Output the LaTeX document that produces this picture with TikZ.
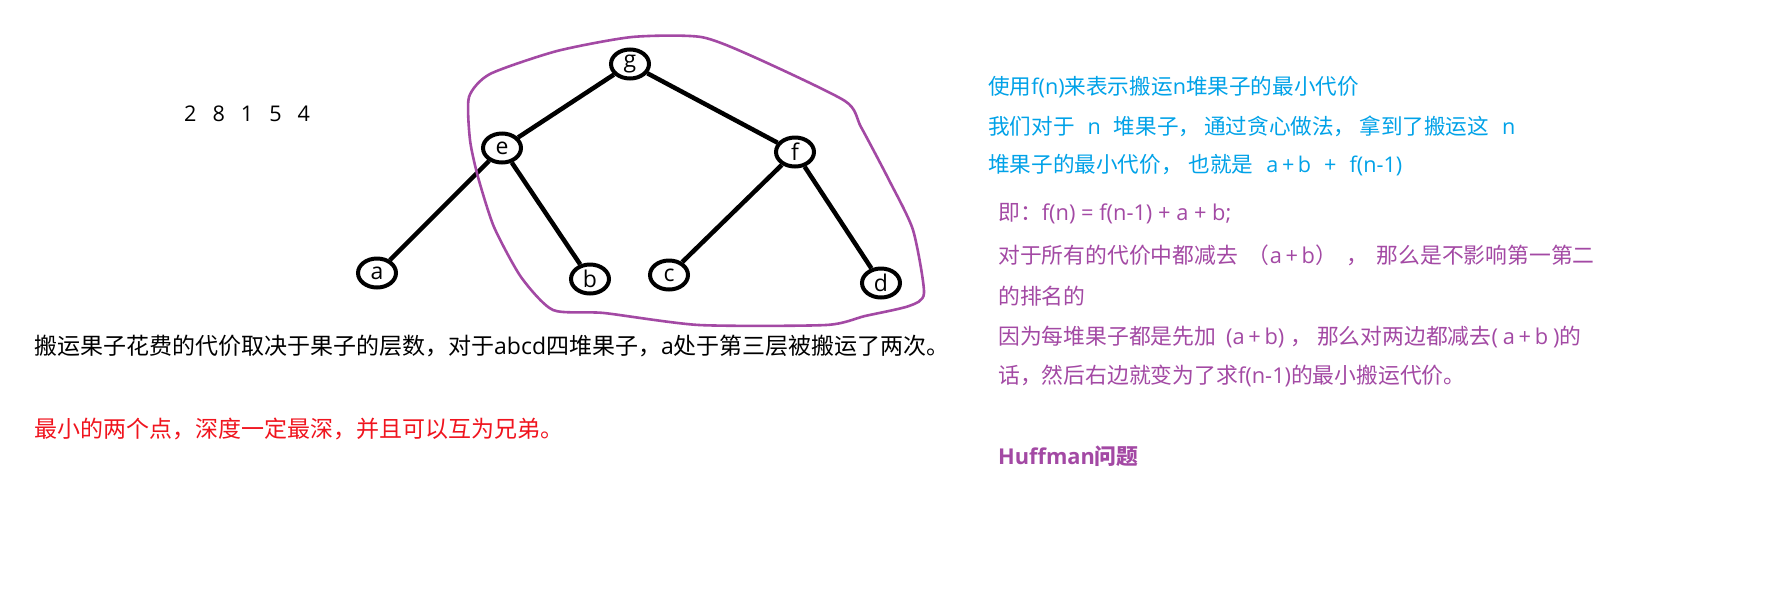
\documentclass[tikz,border=0pt]{standalone}
\usepackage{fontspec}
\setmainfont{Noto Sans CJK SC}
\newfontfamily\latfont{Open Sans}
\newcommand{\en}[1]{{\latfont #1}}
\usetikzlibrary{shapes.geometric}
\definecolor{noteblue}{RGB}{0,162,232}
\definecolor{notepurple}{RGB}{163,73,164}
\definecolor{notered}{RGB}{240,20,30}
\tikzset{
  tnode/.style  = {ellipse, draw, line width=4pt, minimum width=38pt, minimum height=29pt,
                   inner sep=0pt, font=\latfont\fontsize{23}{23}\selectfont},
  tedge/.style  = {line width=4.5pt},
  blob/.style   = {draw=notepurple, line width=2.6pt},
  txt/.style    = {anchor=base west, inner sep=0pt, font=\fontsize{21.6}{21.6}\selectfont},
  ptxt/.style   = {anchor=base west, inner sep=0pt, text=notepurple, font=\fontsize{21.8}{21.8}\selectfont},
  bigtxt/.style = {anchor=base west, inner sep=0pt, font=\fontsize{23}{23}\selectfont},
}
\begin{document}
\begin{tikzpicture}[x=1pt, y=-1pt]
\useasboundingbox[fill=white] (0,0) rectangle (1766,598);

%% ---- weights ----
\node[txt] (weights) at (184,121) {\en{2\hspace{16pt}8\hspace{16pt}1\hspace{16pt}5\hspace{16pt}4}};

%% ---- tree ----
\node[tnode] (g) at (630, 64) {g};
\node[tnode] (e) at (502,148) {e};
\node[tnode] (f) at (795,152) {f};
\node[tnode] (a) at (377,273) {a};
\node[tnode] (b) at (590,279) {b};
\node[tnode] (c) at (669,275) {c};
\node[tnode] (d) at (881,283) {d};

\draw[tedge] (g) -- (e);
\draw[tedge] (g) -- (f);
\draw[tedge] (e) -- (a);
\draw[tedge] (e) -- (b);
\draw[tedge] (f) -- (c);
\draw[tedge] (f) -- (d);

%% hand-drawn loop round the subtree
\draw[blob] plot[smooth cycle, tension=0.4] coordinates {
  (469,97) (490,74) (557,51) (632,37) (701,37) (754,57) (845,101) (861,127)
  (889,180) (913,230) (924,293) (909,306) (865,316) (826,325) (699,325)
  (604,313) (553,310) (521,277) (494,227) (478,177) (470,140)};

%% ---- left notes ----
\node[bigtxt] (depth) at (34,354)
  {搬运果子花费的代价取决于果子的层数，对于\en{abcd}四堆果子，\en{a}处于第三层被搬运了两次。};
\node[bigtxt, text=notered] (brother) at (34,437)
  {最小的两个点，深度一定最深，并且可以互为兄弟。};

%% ---- right notes ----
\node[txt, text=noteblue] (blue1) at (988, 94) {使用\en{f(n)}来表示搬运\en{n}堆果子的最小代价};
\node[txt, text=noteblue] (blue2) at (988,134)
  {我们对于\en{\hspace{13pt}n\hspace{13pt}}堆果子，\hspace{4pt}通过贪心做法，\hspace{4pt}拿到了搬运这\en{\hspace{13pt}n}};
\node[txt, text=noteblue] (blue3) at (988,172)
  {堆果子的最小代价，\hspace{6pt}也就是\en{\hspace{13pt}a\,+\,b\hspace{13pt}+\hspace{13pt}f(n-1)}};

\node[ptxt] (pur1) at (998,220) {即：\en{f(n) = f(n-1) + a + b;}};
\node[ptxt] (pur2) at (998,263)
  {对于所有的代价中都减去\hspace{10pt}（\en{a\,+\,b}）\hspace{10pt}，\hspace{8pt}那么是不影响第一第二};
\node[ptxt] (pur3) at (998,304) {的排名的};
\node[ptxt] (pur4) at (998,344)
  {因为每堆果子都是先加\en{\hspace{10pt}(a\,+\,b)}\hspace{6pt}，\hspace{5pt}那么对两边都减去\en{(\hspace{5pt}a\,+\,b\hspace{5pt})}的};
\node[ptxt] (pur5) at (998,383) {话，然后右边就变为了求\en{f(n-1)}的最小搬运代价。};

\node[ptxt, font=\fontsize{21.8}{21.8}\selectfont\bfseries] (huff) at (998,464) {\en{Huffman}问题};

\end{tikzpicture}
\end{document}
